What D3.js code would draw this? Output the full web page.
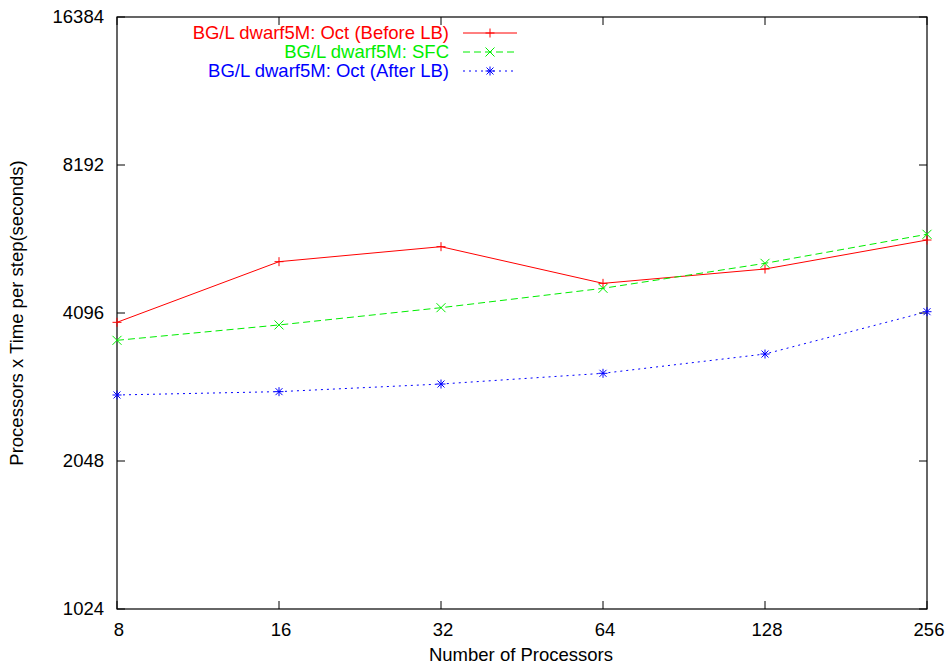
<!DOCTYPE html>
<html>
<head>
<meta charset="utf-8">
<script src="https://cdn.jsdelivr.net/npm/d3@7"></script>
<style>
  body { margin: 0; background: #fff; }
  svg text { font-family: "Liberation Sans", Arial, Helvetica, sans-serif; font-size: 18.5px; }
</style>
</head>
<body>
<svg id="viz"></svg>
<script>
// processors on the x axis
var procs = [8, 16, 32, 64, 128, 256];
// processors x time per step (seconds), one array per series
var octBefore = [3921, 5209, 5588, 4706, 5033, 5765];
var sfc = [3604, 3873, 4199, 4598, 5169, 5922];
var octAfter = [2790, 2834, 2937, 3088, 3380, 4121];
var yTicks = [1024, 2048, 4096, 8192, 16384];
var seriesNames = ['BG/L dwarf5M: Oct (Before LB)', 'BG/L dwarf5M: SFC', 'BG/L dwarf5M: Oct (After LB)'];

var width = 948, height = 665;
var margin = {top: 17, right: 21, bottom: 56, left: 117};
var drawWidth = width - margin.left - margin.right;
var drawHeight = height - margin.top - margin.bottom;

var svg = d3.select('#viz').attr('width', width).attr('height', height);
var g = svg.append('g').attr('transform', `translate(${margin.left}, ${margin.top})`);

var xScale = d3.scaleLog().base(2).domain([8, 256]).range([0, drawWidth]);
var yScale = d3.scaleLog().base(2).domain([1024, 16384]).range([drawHeight, 0]);

// ticks (gnuplot style, inside on all four sides)
var tickLen = 8;
yTicks.forEach(function(t){
    var y = yScale(t);
    g.append('line').attr('x1', 0).attr('x2', tickLen).attr('y1', y).attr('y2', y).attr('stroke', '#000');
    g.append('line').attr('x1', drawWidth - tickLen).attr('x2', drawWidth).attr('y1', y).attr('y2', y).attr('stroke', '#000');
    g.append('text').attr('x', -13).attr('y', y).attr('dy', '0.35em').attr('text-anchor', 'end').text(t);
});
procs.forEach(function(p){
    var x = xScale(p);
    g.append('line').attr('x1', x).attr('x2', x).attr('y1', drawHeight).attr('y2', drawHeight - tickLen).attr('stroke', '#000');
    g.append('line').attr('x1', x).attr('x2', x).attr('y1', 0).attr('y2', tickLen).attr('stroke', '#000');
    g.append('text').attr('x', x + 2).attr('y', drawHeight + 27).attr('text-anchor', 'middle').text(p);
});

// frame
g.append('rect').attr('width', drawWidth).attr('height', drawHeight)
    .attr('fill', 'none').attr('stroke', '#000').attr('stroke-width', 1.2);

// axis titles
svg.append('text').attr('x', 521).attr('y', 661).attr('text-anchor', 'middle').text('Number of Processors');
svg.append('text').attr('transform', 'translate(23, 313) rotate(-90)').attr('text-anchor', 'middle')
    .text('Processors x Time per step(seconds)');

var series = [
    {name: seriesNames[0], values: octBefore, color: '#ff0000', dash: null, marker: 'plus'},
    {name: seriesNames[1], values: sfc, color: '#00ee00', dash: '7,4', marker: 'cross'},
    {name: seriesNames[2], values: octAfter, color: '#0000ff', dash: '2,4', marker: 'star'}
];

function drawMarker(sel, type, x, y, color) {
    var s = 4.5;
    var segs = [];
    if (type === 'plus' || type === 'star') segs.push([x - s, y, x + s, y], [x, y - s, x, y + s]);
    if (type === 'cross' || type === 'star') {
        var d = type === 'star' ? 3.5 : s;
        segs.push([x - d, y - d, x + d, y + d], [x - d, y + d, x + d, y - d]);
    }
    segs.forEach(function(c){
        sel.append('line').attr('x1', c[0]).attr('y1', c[1]).attr('x2', c[2]).attr('y2', c[3])
            .attr('stroke', color).attr('stroke-width', 1);
    });
}

var line = d3.line().x((d, i) => xScale(procs[i])).y(d => yScale(d));

series.forEach(function(s, k){
    g.append('path').datum(s.values).attr('d', line)
        .attr('fill', 'none').attr('stroke', s.color).attr('stroke-width', 1)
        .attr('stroke-dasharray', s.dash);
    s.values.forEach(function(v, i){
        drawMarker(g, s.marker, xScale(procs[i]), yScale(v), s.color);
    });

    // legend
    var ly = 33 + k * 19;
    svg.append('text').attr('x', 449).attr('y', ly).attr('dy', '0.35em').attr('text-anchor', 'end')
        .attr('fill', s.color).text(s.name);
    svg.append('line').attr('x1', 463).attr('x2', 517).attr('y1', ly).attr('y2', ly)
        .attr('stroke', s.color).attr('stroke-width', 1).attr('stroke-dasharray', s.dash);
    drawMarker(svg, s.marker, 490, ly, s.color);
});
</script>
</body>
</html>
